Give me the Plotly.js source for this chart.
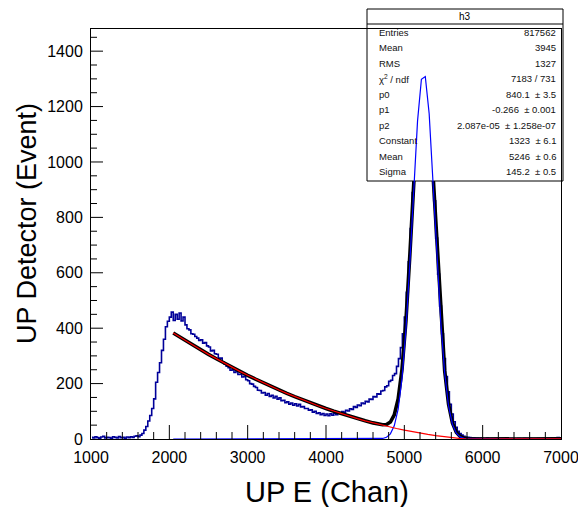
<!DOCTYPE html>
<html><head><meta charset="utf-8">
<script src="https://cdn.plot.ly/plotly-3.0.1.min.js"></script>
<style>html,body{margin:0;padding:0;background:#fff;overflow:hidden;} #chart{width:578px;height:507px;}</style>
</head><body><div id="chart"></div>
<script>
// ---------- data ----------
const histStart = 1012.5;      // centre of first bin (chan)
const histBinWidth = 25;       // chan per bin
const histCounts = [
  6,4,8,5, 3,7,10,4, 6,5,3,8, 6,4,9,5, 6,3,7,5, 8,6,10,12,
  8,14,20,32, 45,65,85,110, 145,205,240,275, 320,360,405,425,
  440,458,428,450, 432,455,426,440, 412,398,394,380, 378,370,364,356,
  358,346,348,336, 332,318,320,308, 306,292,292,278, 270,263,257,248,
  250,240,246,233, 234,224,226,214, 210,200,198,190, 186,176,175,166,
  168,158,164,154, 158,148,154,144, 149,138,140,131, 134,126,130,122,
  127,119,125,116, 117,110,110,104, 105,97,100,92, 95,88,92,85,
  90,84,91,86, 93,88,95,92, 99,96,104,101, 109,107,117,114,
  123,120,130,127, 136,134,144,143, 153,152,163,162, 173,175,188,192,
  208,212,229,236, 262,290,330,380, 440,530,640,760, 890,1020,1140,1235,
  1300,1330,1325,1290, 1215,1110,990,860, 725,595,480,380, 290,225,170,125,
  90,62,42,28, 20,14,10,7, 6,5,4,4, 3,3,2,3,
  2,2,3,2, 2,1,2,2, 1,2,2,1, 1,2,1,2, 1,1,2,1, 1,2,1,1,
  2,1,1,1, 2,1,1,2, 1,2,2,3, 3,4,5,5
];

// background (pol2) fit, red
const bgFitX = [2050,2100,2200,2300,2400,2500,2600,2700,2800,2900,3000,3100,3200,3300,3400,3500,3600,3700,3800,3900,
  4000,4100,4200,4300,4400,4500,4600,4700,4800,4900,5000,5100,5200,5300,5400,5500,5600,5700,5800,5900,
  6000,6100,6200,6300,6400,6500,6600,6700,6800,6900,7000];
const bgFitY = [382.5,373.5,355.9,338.7,321.9,305.5,289.6,274.0,258.9,244.2,229.9,216.1,202.6,189.6,177.0,164.8,153.0,141.6,130.7,120.1,
  110.0,100.3,91.1,82.2,73.8,65.7,58.1,50.9,44.1,37.8,31.9,26.3,21.2,16.5,12.3,8.4,5.0,2.0,0,0,
  0,0,0,0,0,0,0,0,0,0,0.7];

// total fit (pol2 + gaus), thick black
const totalFitX = [2050,2100,2200,2300,2400,2500,2600,2700,2800,2900,3000,3100,3200,3300,3400,3500,3600,3700,3800,3900,
  4000,4100,4200,4300,4400,4500,4600,4673.5,4723,4772.5,4822,4871.5,4921,4970.5,5020,5069.5,5119,5168.5,5218,5267.5,
  5317,5366.5,5416,5465.5,5515,5564.5,5614,5663.5,5713,5762.5,5812,5900,6000,6100,6200,6300,6400,6500,6600,6700,
  6800,6900,7000];
const totalFitY = [382.5,373.5,355.9,338.7,321.9,305.5,289.6,274.0,258.9,244.2,229.9,216.1,202.6,189.6,177.0,164.8,153.0,141.6,130.7,120.1,
  110.0,100.3,91.1,82.2,73.8,65.7,58.2,53.3,51.3,52.5,61.3,87.1,144.6,252.3,424.7,660.0,927.7,1170.2,1319.0,1326.6,
  1189.7,951.2,678.3,431.7,245.8,125.5,57.8,24.2,9.1,2.7,0,0,0,0,0,0,0,0,0,0,
  0,0,0.7];

// gaussian component, thin bright blue
const gausFitX = [2050,4624,4673.5,4723,4772.5,4822,4871.5,4921,4970.5,5020,5069.5,5119,5168.5,5218,5267.5,5317,
  5366.5,5416,5465.5,5515,5564.5,5614,5663.5,5713,5762.5,5812,5861.5,7000];
const gausFitY = [0,0.1,0.5,2.0,6.5,18.6,47.5,108.1,218.7,394.0,632.0,902.4,1147.4,1298.6,1308.6,1173.9,
  937.5,666.7,422.0,237.9,119.3,53.3,21.2,7.5,2.4,0.7,0.2,0];

const xTickVals = [1000,2000,3000,4000,5000,6000,7000];
const yTickVals = [0,200,400,600,800,1000,1200,1400];
const xMinorStep = 200, yMinorStep = 50;
const xTitle = 'UP E (Chan)';
const yTitle = 'UP Detector (Event)';
const statsTitle = 'h3';
const statLabels = ['Entries','Mean','RMS','\u03c7<sup>2</sup> / ndf','p0','p1','p2','Constant','Mean','Sigma'];
const statValues = ['817562','3945','1327','7183 / 731','840.1 \u00a0\u00b1 3.5','-0.266 \u00a0\u00b1 0.001',
  '2.087e-05 \u00a0\u00b1 1.258e-07','1323 \u00a0\u00b1 6.1','5246 \u00a0\u00b1 0.6','145.2 \u00a0\u00b1 0.5'];

// ---------- layout geometry (pixels) ----------
const W = 578, H = 507;
const plotL = 91, plotR = 561, plotT = 29, plotB = 439;
const xMin = 1000, xMax = 7000, yMax = 1480;
const yScale = (plotB - plotT) / yMax;
const ext = 4; // overlay subplot reaches a few px below the frame so lines at y=0 stay visible
const box = {L: 367, R: 563, T: 9, B: 181, sep: 24, row0: 32.3, rowStep: 15.5, labelX: 377, valueX: 558};
const tickLen = {xMajor: 14, xMinor: 7, yMajor: 12, yMinor: 6};
const FONT = 'Liberation Sans, Arial, Helvetica, sans-serif';
const px = v => v / W;
const py = v => 1 - v / H;
const frameX = [px(plotL), px(plotR)];
const frameY = [1 - plotB/H, 1 - plotT/H];

const traces = [
  {type:'scatter', mode:'lines', x0: histStart, dx: histBinWidth, y: histCounts, xaxis:'x', yaxis:'y',
   line:{shape:'hvh', color:'#000099', width:1.6}, hoverinfo:'skip'},
  {type:'scatter', mode:'lines', x: totalFitX, y: totalFitY, xaxis:'x', yaxis:'y',
   line:{color:'#000000', width:3.6}, hoverinfo:'skip'},
  // stats panel (separate subplot in pixel coordinates, drawn over the histogram)
  {type:'scatter', mode:'lines', x:[box.L,box.R,box.R,box.L,box.L], y:[box.T,box.T,box.B,box.B,box.T],
   xaxis:'x2', yaxis:'y2', fill:'toself', fillcolor:'#ffffff', line:{color:'#000', width:1}, hoverinfo:'skip'},
  {type:'scatter', mode:'lines', x:[box.L,box.R], y:[box.sep,box.sep], xaxis:'x2', yaxis:'y2',
   line:{color:'#000', width:1}, hoverinfo:'skip'},
  // fit components drawn on top
  {type:'scatter', mode:'lines', x: gausFitX, y: gausFitY, xaxis:'x3', yaxis:'y3',
   line:{color:'#0000ff', width:1.2}, hoverinfo:'skip'},
  {type:'scatter', mode:'lines', x: bgFitX, y: bgFitY, xaxis:'x3', yaxis:'y3',
   line:{color:'#ff0000', width:1.2}, hoverinfo:'skip'},
  // empty trace that holds the top-most subplot carrying the visible frame and labels
  {type:'scatter', mode:'lines', x: [], y: [], xaxis:'x4', yaxis:'y4', hoverinfo:'skip', showlegend:false}
];

const annotations = [];
annotations.push({xref:'paper', yref:'paper', x:px((box.L+box.R)/2), y:py((box.T+box.sep)/2+0.5), text:statsTitle,
  showarrow:false, xanchor:'center', yanchor:'middle', font:{family:FONT, size:10, color:'#000'}});
statLabels.forEach((lab, i) => {
  const yy = py(box.row0 + i*box.rowStep);
  annotations.push({xref:'paper', yref:'paper', x:px(box.labelX), y:yy, text:lab, showarrow:false,
    xanchor:'left', yanchor:'middle', font:{family:FONT, size:9.5, color:'#111'}});
  annotations.push({xref:'paper', yref:'paper', x:px(box.valueX), y:yy, text:statValues[i], showarrow:false,
    xanchor:'right', yanchor:'middle', font:{family:FONT, size:9.5, color:'#111'}});
});
annotations.push({xref:'paper', yref:'paper', x:px(327), y:py(492), text:xTitle, showarrow:false,
  xanchor:'center', yanchor:'middle', font:{family:FONT, size:29, color:'#000'}});
annotations.push({xref:'paper', yref:'paper', x:px(27), y:py(224), text:yTitle, showarrow:false, textangle:-90,
  xanchor:'center', yanchor:'middle', font:{family:FONT, size:27, color:'#000'}});

// inward ROOT-style tick marks, placed through the axis scales (x4 / y4) as shapes above everything
const shapes = [];
const tickLine = {color:'#000000', width:1};
for (let v = xMin; v <= xMax; v += xMinorStep) {
  if (v === xMin || v === xMax) continue;
  const len = xTickVals.includes(v) ? tickLen.xMajor : tickLen.xMinor;
  shapes.push({type:'line', layer:'above', xref:'x4', yref:'paper', x0:v, x1:v,
    y0:frameY[0], y1:frameY[0] + len/H, line:tickLine});
}
for (let v = 0; v <= 1450; v += yMinorStep) {
  if (v === 0) continue;
  const len = yTickVals.includes(v) ? tickLen.yMajor : tickLen.yMinor;
  shapes.push({type:'line', layer:'above', xref:'paper', yref:'y4', x0:frameX[0], x1:frameX[0] + len/W,
    y0:v, y1:v, line:tickLine});
}

function mainAxis(extra) {
  return Object.assign({
    showgrid:false, zeroline:false, showline:true, linecolor:'#000000', linewidth:1, mirror:true,
    ticks:'', ticklabeloverflow:'allow', layer:'above traces',
    tickfont:{family:FONT, size:16, color:'#000000'}, fixedrange:true
  }, extra);
}
const hidden = (extra) => Object.assign({visible:false, fixedrange:true}, extra);

const layout = {
  width: W, height: H,
  margin:{l:0, r:0, t:0, b:0, pad:0},
  paper_bgcolor:'#ffffff', plot_bgcolor:'rgba(0,0,0,0)',
  showlegend:false, dragmode:false, hovermode:false,
  xaxis: hidden({domain:frameX, range:[xMin,xMax], anchor:'y'}),
  yaxis: hidden({domain:frameY, range:[0,yMax], anchor:'x'}),
  xaxis2: hidden({domain:[0,1], range:[0,W], anchor:'y2'}),
  yaxis2: hidden({domain:[0,1], range:[H,0], anchor:'x2'}),
  xaxis3: hidden({domain:frameX, range:[xMin,xMax], anchor:'y3'}),
  yaxis3: hidden({domain:[1-(plotB+ext)/H, frameY[1]], range:[-ext/yScale, yMax], anchor:'x3'}),
  xaxis4: mainAxis({domain:frameX, range:[xMin,xMax], anchor:'y4',
    tickmode:'array', tickvals:xTickVals, ticktext:xTickVals.map(String), ticklabelstandoff:4}),
  yaxis4: mainAxis({domain:frameY, range:[0,yMax], anchor:'x4',
    tickmode:'array', tickvals:yTickVals, ticktext:yTickVals.map(String), ticklabelstandoff:4}),
  shapes: shapes,
  annotations: annotations
};

Plotly.newPlot('chart', traces, layout, {displayModeBar:false, staticPlot:false});
</script>
</body></html>
